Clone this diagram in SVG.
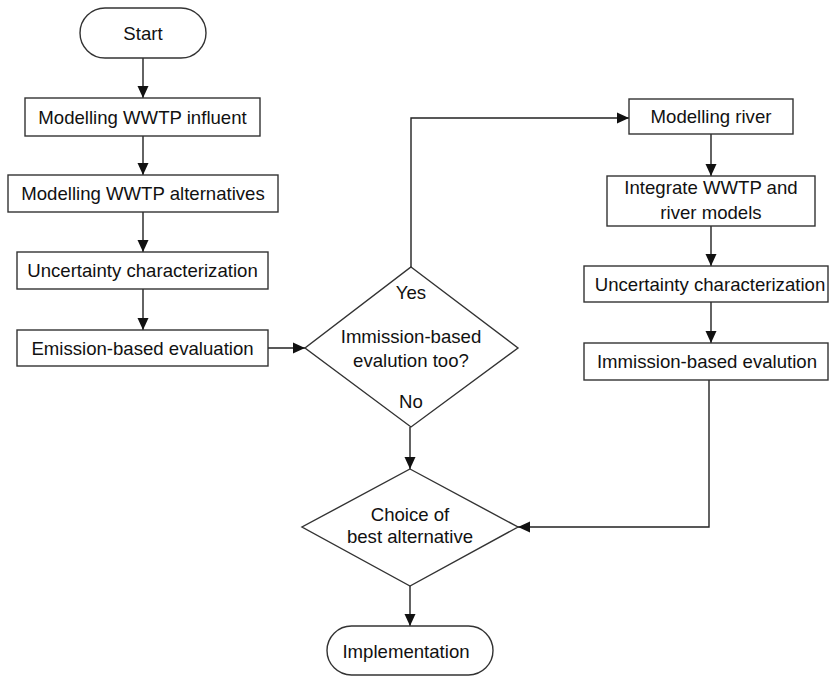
<svg xmlns="http://www.w3.org/2000/svg" width="830" height="677" viewBox="0 0 830 677">
<defs>
<marker id="arr" markerUnits="userSpaceOnUse" markerWidth="12" markerHeight="12" viewBox="0 0 12 12" refX="12" refY="6" orient="auto">
<path d="M0,0.5 L12,6 L0,11.5 Z" fill="#111"/>
</marker>
<style>
.s{fill:#fff;stroke:#333;stroke-width:1.4}
.t{font-family:"Liberation Sans",Arial,sans-serif;font-size:18.6px;fill:#111;text-anchor:middle}
.c{fill:none;stroke:#222;stroke-width:1.4}
</style>
</defs>
<rect width="830" height="677" fill="#fff"/>
<g id="connectors">
<path class="c" d="M143,58 V98" marker-end="url(#arr)"/>
<path class="c" d="M143,136 V175" marker-end="url(#arr)"/>
<path class="c" d="M143,212 V252" marker-end="url(#arr)"/>
<path class="c" d="M143,289 V330" marker-end="url(#arr)"/>
<path class="c" d="M268,348 H305" marker-end="url(#arr)"/>
<path class="c" d="M411,267 V118 H629" marker-end="url(#arr)"/>
<path class="c" d="M711,134 V176" marker-end="url(#arr)"/>
<path class="c" d="M711,226 V266" marker-end="url(#arr)"/>
<path class="c" d="M711,302 V343" marker-end="url(#arr)"/>
<path class="c" d="M709,380 V527 H518" marker-end="url(#arr)"/>
<path class="c" d="M410,427 V469" marker-end="url(#arr)"/>
<path class="c" d="M410,586 V626" marker-end="url(#arr)"/>
</g>
<g id="start"><rect class="s" x="80" y="8" width="126" height="50" rx="25"/><text class="t" x="143" y="40">Start</text></g>
<g id="influent"><rect class="s" x="25" y="98" width="235" height="38"/><text class="t" x="142.5" y="123.5">Modelling WWTP influent</text></g>
<g id="alternatives"><rect class="s" x="8" y="175" width="270" height="37"/><text class="t" x="143" y="200">Modelling WWTP alternatives</text></g>
<g id="uncert1"><rect class="s" x="17" y="252" width="251" height="37"/><text class="t" x="142.5" y="277">Uncertainty characterization</text></g>
<g id="emission"><rect class="s" x="17" y="330" width="251" height="36"/><text class="t" x="142.5" y="354.5">Emission-based evaluation</text></g>
<g id="decision1"><polygon class="s" points="411,267 518,348 411,427 305,348"/>
<text class="t" x="411" y="299">Yes</text>
<text class="t" x="411" y="343">Immission-based</text>
<text class="t" x="411" y="367">evalution too?</text>
<text class="t" x="411" y="408">No</text></g>
<g id="river"><rect class="s" x="629" y="99" width="164" height="35"/><text class="t" x="711" y="123">Modelling river</text></g>
<g id="integrate"><rect class="s" x="607" y="176" width="208" height="50"/><text class="t" x="711" y="194">Integrate WWTP and</text><text class="t" x="711" y="219">river models</text></g>
<g id="uncert2"><rect class="s" x="584" y="266" width="244" height="36"/><text class="t" x="710" y="290.5">Uncertainty characterization</text></g>
<g id="immission"><rect class="s" x="584" y="343" width="244" height="37"/><text class="t" x="707" y="367.5">Immission-based evalution</text></g>
<g id="decision2"><polygon class="s" points="410,469 518,527 410,586 302,527"/>
<text class="t" x="410" y="521">Choice of</text>
<text class="t" x="410" y="543">best alternative</text></g>
<g id="implementation"><rect class="s" x="327" y="626" width="166" height="49" rx="24.5"/><text class="t" x="406" y="658">Implementation</text></g>
</svg>
